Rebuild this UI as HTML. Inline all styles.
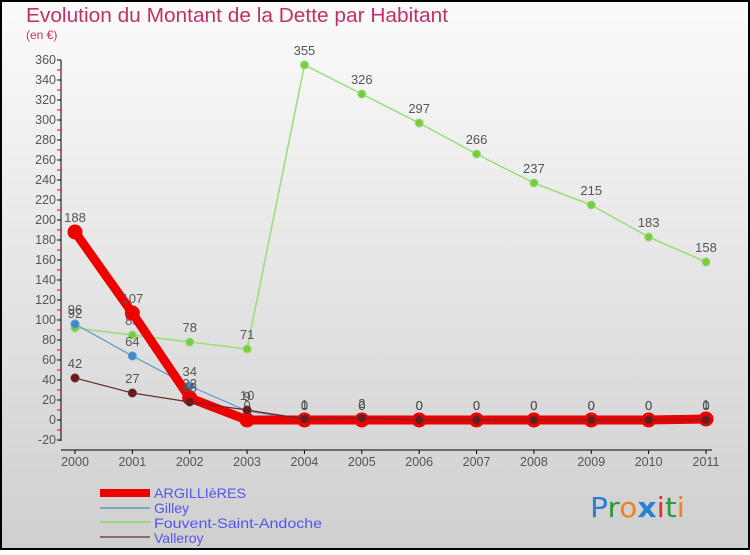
<!DOCTYPE html>
<html><head><meta charset="utf-8"><style>
html,body{margin:0;padding:0}
body{width:750px;height:550px;overflow:hidden;font-family:"Liberation Sans","DejaVu Sans",sans-serif}
</style></head><body>
<svg id="chart" width="750" height="550" xmlns="http://www.w3.org/2000/svg">
<defs><linearGradient id="bg" x1="0" y1="0" x2="0" y2="1"><stop offset="0" stop-color="#fbfbfb"/><stop offset="1" stop-color="#cfcfcf"/></linearGradient></defs>
<rect x="1" y="1" width="748" height="548" fill="url(#bg)" stroke="#000" stroke-width="2"/>
<text x="26" y="22" font-size="20" fill="#c0306a" textLength="422" lengthAdjust="spacingAndGlyphs">Evolution du Montant de la Dette par Habitant</text>
<text x="26" y="39" font-size="12" fill="#c0306a">(en €)</text>
<g id="axes"></g><g id="series"></g>
<g>
<rect x="100" y="489" width="50" height="8" fill="#e00"/>
<line x1="100" y1="508" x2="150" y2="508" stroke="#7aa8c8" stroke-width="2"/>
<line x1="100" y1="522" x2="150" y2="522" stroke="#9ad67a" stroke-width="2"/>
<line x1="100" y1="537" x2="150" y2="537" stroke="#906868" stroke-width="2"/>
<g font-size="14" fill="#5555ee">
<text x="154" y="498" textLength="92" lengthAdjust="spacingAndGlyphs">ARGILLIèRES</text>
<text x="154" y="513">Gilley</text>
<text x="154" y="528" textLength="168" lengthAdjust="spacingAndGlyphs">Fouvent-Saint-Andoche</text>
<text x="154" y="543">Valleroy</text>
</g></g>
<g font-size="28" font-family="DejaVu Sans, sans-serif">
<text x="590" y="517" textLength="95" lengthAdjust="spacingAndGlyphs"><tspan fill="#2a7fd4">P</tspan><tspan fill="#2a9a3a">r</tspan><tspan fill="#f08020">o</tspan><tspan fill="#2a7fd4" font-weight="bold">x</tspan><tspan fill="#e03030">i</tspan><tspan fill="#2a9a3a">t</tspan><tspan fill="#f08020">i</tspan></text>
</g>
</svg>
<script>
const years=[2000,2001,2002,2003,2004,2005,2006,2007,2008,2009,2010,2011];
const argillieres=[188,107,22,0,0,0,0,0,0,0,0,1];
const gilley=[96,64,34,9,0,0,0,0,0,0,0,0];
const fouvent=[92,85,78,71,355,326,297,266,237,215,183,158];
const valleroy=[42,27,18,10,1,2,0,0,0,0,0,0];
const yTicks=[-20,0,20,40,60,80,100,120,140,160,180,200,220,240,260,280,300,320,340,360];
const NS="http://www.w3.org/2000/svg";
const x=i=>75+i*(706-75)/11;
const y=v=>420-v;
function mk(tag,attrs,parent){const e=document.createElementNS(NS,tag);for(const k in attrs)e.setAttribute(k,attrs[k]);parent.appendChild(e);return e;}
const ax=document.getElementById('axes');
let a=mk('line',{x1:61,y1:y(360),x2:61,y2:y(-20)+1,stroke:'#000','stroke-width':1},ax);


a=mk('line',{x1:61,y1:450,x2:712,y2:450,stroke:'#000','stroke-width':1},ax);


yTicks.forEach(v=>{
 mk('line',{x1:57,y1:y(v),x2:61,y2:y(v),stroke:'#000'},ax);
 if(v<360) mk('line',{x1:57,y1:y(v+10),x2:61,y2:y(v+10),stroke:'#e00'},ax);
 const t=mk('text',{x:56,y:y(v)+4,'font-size':12.5,fill:'#555','text-anchor':'end'},ax);
 t.textContent=v;
 
 
});
years.forEach((yr,i)=>{
 mk('line',{x1:x(i),y1:450,x2:x(i),y2:454,stroke:'#000'},ax);
 const t=mk('text',{x:x(i),y:466,'font-size':12.5,fill:'#555','text-anchor':'middle'},ax);
 t.textContent=yr;
 
 
});
const sg=document.getElementById('series');
function series(name,vals,color,dot,w,r){
 const g=mk('g',{},sg);
 
 
 mk('polyline',{points:vals.map((v,i)=>x(i)+','+y(v)).join(' '),fill:'none',stroke:color,'stroke-width':w,'stroke-linejoin':'round'},g);
 vals.forEach((v,i)=>{
  const c=mk('circle',{cx:x(i),cy:y(v),r:r,fill:dot,stroke:color,'stroke-width':1},g);
  
  
  const t=mk('text',{x:x(i),y:y(v)-10,'font-size':13,fill:'#555','text-anchor':'middle'},g);
  t.textContent=v;
  
  
 });
}
series('fouvent',fouvent,'#99dd77','#77cc44',1.5,4);
series('gilley',gilley,'#5599cc','#4488cc',1.2,4);
series('argillieres',argillieres,'#ee0000','#ee0000',9,7);
series('valleroy',valleroy,'#6a2a2a','#6a1a1a',1.2,4);
</script>
</body></html>
